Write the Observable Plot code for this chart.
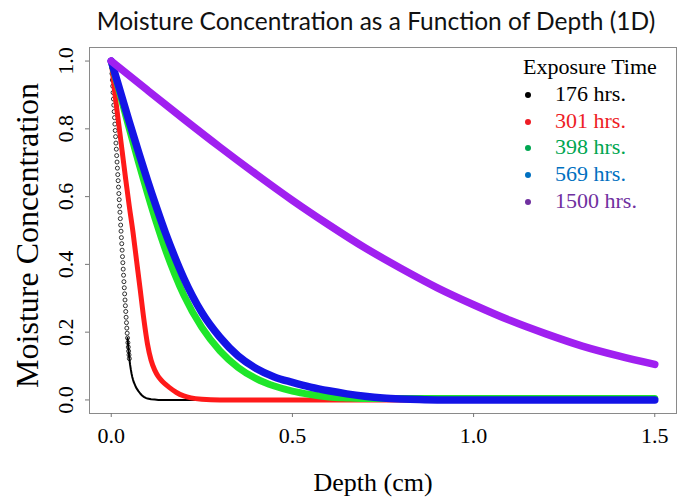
<!DOCTYPE html>
<html><head><meta charset="utf-8">
<script src="https://cdn.jsdelivr.net/npm/d3@7"></script>
<script src="https://cdn.jsdelivr.net/npm/@observablehq/plot@0.6"></script>
<style>
body{margin:0;background:#fff;}
#wrap{position:relative;width:680px;height:498px;overflow:hidden;background:#fff;}
#legend{position:absolute;left:523px;top:54px;font-family:"Liberation Serif",serif;font-size:22px;line-height:26.8px;}
#legend .row{position:relative;padding-left:32px;}
#legend .dot{position:absolute;left:2px;top:11px;width:6px;height:6px;border-radius:50%;}
</style></head>
<body><div id="wrap"><div id="chart"></div><div id="legend"></div></div>
<script>
const title = "Moisture Concentration as a Function of Depth (1D)";
const legendTitle = "Exposure Time";
const seriesNames = ["176 hrs.", "301 hrs.", "398 hrs.", "569 hrs.", "1500 hrs."];
const lineColors = ["#000000", "#ff1a1a", "#1ee62a", "#1414e6", "#a020f0"];
const legendColors = ["#000000", "#ee1c25", "#00a651", "#0070c0", "#7030a0"];
const xTicks = [0, 0.5, 1.0, 1.5];
const yTicks = [0, 0.2, 0.4, 0.6, 0.8, 1.0];

// 176 hrs (black)
const x176 = [0,0.001,0.002,0.003,0.004,0.005,0.006,0.007,0.008,0.009,0.010,0.011,0.012,0.013,0.014,0.015,0.016,0.017,0.018,0.019,0.020,0.021,0.022,0.023,0.024,0.025,0.026,0.027,0.028,0.029,0.030,0.031,0.032,0.033,0.034,0.035,0.036,0.037,0.038,0.039,0.040,0.041,0.042,0.043,0.044,0.045,0.046,0.047,0.048,0.049,0.050,0.052,0.054,0.056,0.058,0.060,0.062,0.064,0.066,0.068,0.070,0.075,0.080,0.085,0.090,0.095,0.100,0.110,0.120,0.130,0.5,1.0,1.5];
const c176 = [1.000,0.981,0.963,0.944,0.926,0.907,0.888,0.870,0.851,0.833,0.814,0.795,0.777,0.758,0.740,0.721,0.702,0.684,0.665,0.647,0.628,0.609,0.591,0.572,0.554,0.535,0.516,0.498,0.479,0.461,0.442,0.423,0.405,0.386,0.368,0.349,0.331,0.313,0.295,0.278,0.261,0.244,0.228,0.212,0.197,0.183,0.169,0.156,0.144,0.133,0.122,0.104,0.090,0.078,0.068,0.060,0.053,0.048,0.043,0.038,0.034,0.026,0.019,0.013,0.009,0.006,0.004,0.002,0.001,0,0,0,0];
// 301 hrs (red)
const x301 = [0,0.01,0.02,0.03,0.04,0.05,0.06,0.07,0.08,0.09,0.10,0.11,0.12,0.13,0.14,0.15,0.16,0.18,0.20,0.22,0.25,0.30,0.40,0.60,1.0,1.5];
const c301 = [1,0.905,0.82,0.735,0.65,0.57,0.495,0.41,0.325,0.238,0.165,0.117,0.088,0.069,0.056,0.046,0.037,0.022,0.012,0.006,0.002,0,0,0,0,0];
// 398 hrs (green)
const x398 = [0,0.025,0.05,0.075,0.10,0.125,0.15,0.175,0.20,0.25,0.30,0.35,0.40,0.45,0.50,0.55,0.60,0.65,0.70,0.80,1.0,1.5];
const c398 = [1,0.900,0.800,0.703,0.610,0.522,0.442,0.372,0.310,0.214,0.145,0.096,0.063,0.041,0.026,0.016,0.009,0.006,0.004,0.004,0.004,0.004];
// 569 hrs (blue)
const x569 = [0,0.025,0.05,0.075,0.10,0.125,0.15,0.175,0.20,0.25,0.30,0.35,0.40,0.45,0.50,0.55,0.60,0.65,0.70,0.75,0.80,0.85,0.90,1.0,1.5];
const c569 = [1,0.910,0.820,0.733,0.648,0.568,0.492,0.423,0.360,0.258,0.185,0.130,0.093,0.068,0.052,0.038,0.027,0.018,0.011,0.006,0.003,0.001,0,0,0];
// 1500 hrs (purple)
const x1500 = [0,0.1,0.2,0.3,0.4,0.5,0.6,0.7,0.8,0.9,1.0,1.1,1.2,1.3,1.4,1.5];
const c1500 = [1,0.914,0.829,0.746,0.666,0.589,0.517,0.449,0.388,0.331,0.281,0.235,0.195,0.159,0.130,0.105];

const toRows = (xs, cs) => xs.map((x, i) => ({x, c: cs[i]}));
const s176 = toRows(x176, c176), s301 = toRows(x301, c301), s398 = toRows(x398, c398), s569 = toRows(x569, c569), s1500 = toRows(x1500, c1500);

const chart = Plot.plot({
  width: 680, height: 498,
  marginLeft: 89, marginRight: 4, marginTop: 47, marginBottom: 85,
  x: {domain: [-0.06, 1.56]},
  y: {domain: [-0.04, 1.04]},
  style: {fontFamily: "'Liberation Serif', serif", background: "#fff"},
  marks: [
    Plot.line(s176, {filter: d => d.x >= 0.045, x: "x", y: "c", stroke: lineColors[0], strokeWidth: 2}),
    Plot.dot(s176, {filter: d => d.x <= 0.05, x: "x", y: "c", r: 2, stroke: lineColors[0], strokeWidth: 0.8, fill: "none"}),
    Plot.line(s301, {x: "x", y: "c", stroke: lineColors[1], strokeWidth: 5, curve: "monotone-x"}),
    Plot.line(s398, {x: "x", y: "c", stroke: lineColors[2], strokeWidth: 7, curve: "monotone-x"}),
    Plot.line(s569, {x: "x", y: "c", stroke: lineColors[3], strokeWidth: 7.5, curve: "monotone-x"}),
    Plot.line(s1500, {x: "x", y: "c", stroke: lineColors[4], strokeWidth: 7.5, curve: "monotone-x"}),
    Plot.frame({stroke: "#8a8a8a"}),
    Plot.axisX({ticks: xTicks, tickFormat: d3.format(".1f"), tickSize: 4, tickPadding: 10, fontSize: 22, stroke: "#777", color: "#000", label: null}),
    Plot.axisY({ticks: yTicks, tickFormat: d3.format(".1f"), tickSize: 4, tickPadding: 13, tickRotate: -90, fontSize: 22, stroke: "#777", label: null}),
    Plot.text([title], {frameAnchor: "top", lineAnchor: "middle", dy: -25, dx: -7, fontFamily: "Lato", fontSize: 24.5, fill: "#111"}),
    Plot.text(["Depth (cm)"], {frameAnchor: "bottom", lineAnchor: "middle", dy: 69, dx: -10, fontSize: 26}),
    Plot.text(["Moisture Concentration"], {frameAnchor: "left", textAnchor: "middle", lineAnchor: "middle", dx: -62, dy: 5, rotate: -90, fontSize: 32})
  ]
});
document.getElementById("chart").appendChild(chart);

const legend = document.getElementById("legend");
const head = document.createElement("div");
head.textContent = legendTitle;
legend.appendChild(head);
seriesNames.forEach((name, i) => {
  const row = document.createElement("div");
  row.className = "row";
  row.style.color = legendColors[i];
  const dot = document.createElement("span");
  dot.className = "dot";
  dot.style.background = legendColors[i];
  row.appendChild(dot);
  row.appendChild(document.createTextNode(name));
  legend.appendChild(row);
});
</script>
</body></html>
